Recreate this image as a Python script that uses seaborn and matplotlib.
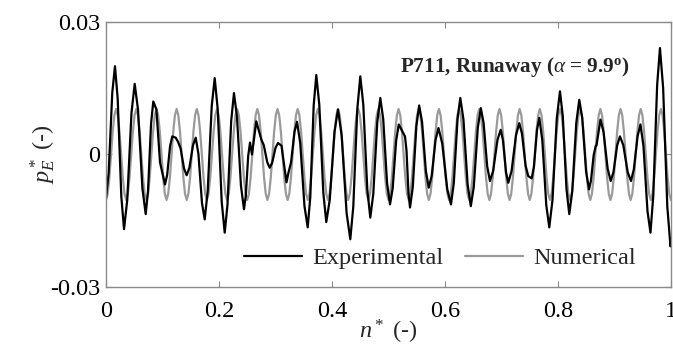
import numpy as np
import pandas as pd
import matplotlib
matplotlib.use("Agg")
import matplotlib.pyplot as plt
import seaborn as sns

# ---------------- data ----------------
exp_n = [0.0000, 0.0048, 0.0111, 0.0159, 0.0207, 0.0271, 0.0319, 0.0376, 0.0451, 0.0508,
         0.0567, 0.0644, 0.0703, 0.0743, 0.0797, 0.0837, 0.0892, 0.0956, 0.1044, 0.1083,
         0.1134, 0.1173, 0.1234, 0.1274, 0.1320, 0.1382, 0.1428, 0.1476, 0.1540, 0.1588,
         0.1636, 0.1699, 0.1747, 0.1800, 0.1871, 0.1924, 0.1977, 0.2048, 0.2101, 0.2150,
         0.2216, 0.2265, 0.2318, 0.2389, 0.2442, 0.2474, 0.2517, 0.2549, 0.2584, 0.2660,
         0.2749, 0.2793, 0.2853, 0.2897, 0.2941, 0.3000, 0.3044, 0.3106, 0.3195, 0.3230,
         0.3275, 0.3336, 0.3381, 0.3438, 0.3513, 0.3570, 0.3616, 0.3676, 0.3722, 0.3775,
         0.3846, 0.3899, 0.3961, 0.4044, 0.4106, 0.4171, 0.4259, 0.4324, 0.4377, 0.4448,
         0.4501, 0.4554, 0.4625, 0.4678, 0.4731, 0.4802, 0.4855, 0.4907, 0.4975, 0.5027,
         0.5074, 0.5136, 0.5182, 0.5292, 0.5319, 0.5354, 0.5381, 0.5430, 0.5494, 0.5543,
         0.5594, 0.5662, 0.5713, 0.5765, 0.5833, 0.5885, 0.5951, 0.6040, 0.6106, 0.6156,
         0.6222, 0.6271, 0.6327, 0.6401, 0.6457, 0.6510, 0.6581, 0.6634, 0.6683, 0.6747,
         0.6796, 0.6853, 0.6929, 0.6986, 0.7026, 0.7080, 0.7120, 0.7179, 0.7257, 0.7315,
         0.7363, 0.7426, 0.7474, 0.7535, 0.7575, 0.7629, 0.7669, 0.7722, 0.7793, 0.7846,
         0.7903, 0.7978, 0.8035, 0.8085, 0.8151, 0.8200, 0.8253, 0.8324, 0.8377, 0.8429,
         0.8497, 0.8549, 0.8584, 0.8632, 0.8667, 0.8681, 0.8752, 0.8806, 0.8879, 0.8933,
         0.8982, 0.9048, 0.9097, 0.9156, 0.9234, 0.9292, 0.9342, 0.9410, 0.9460, 0.9513,
         0.9584, 0.9637, 0.9687, 0.9755, 0.9805, 0.9861, 0.9935, 0.9991, 1.0000]
exp_v = [-0.0100, -0.0040, 0.0140, 0.0200, 0.0126, -0.0095, -0.0169, -0.0103, 0.0094, 0.0160,
         0.0101, -0.0076, -0.0135, -0.0084, 0.0069, 0.0120, 0.0102, -0.0018, -0.0068, -0.0046,
         0.0019, 0.0041, 0.0038, 0.0029, 0.0014, -0.0032, -0.0047, -0.0030, 0.0021, 0.0038,
         0.0001, -0.0110, -0.0147, -0.0083, 0.0109, 0.0173, 0.0103, -0.0107, -0.0177, -0.0114,
         0.0076, 0.0139, 0.0086, -0.0071, -0.0124, -0.0094, -0.0003, 0.0027, 0.0000, 0.0075,
         0.0034, 0.0021, -0.0017, -0.0030, -0.0019, 0.0015, 0.0026, 0.0020, -0.0063, -0.0041,
         -0.0018, 0.0051, 0.0074, 0.0026, -0.0117, -0.0165, -0.0096, 0.0111, 0.0180, 0.0113,
         -0.0086, -0.0153, -0.0102, 0.0051, 0.0102, 0.0043, -0.0133, -0.0192, -0.0118, 0.0103,
         0.0177, 0.0113, -0.0079, -0.0143, -0.0089, 0.0074, 0.0128, 0.0080, -0.0065, -0.0113,
         -0.0077, 0.0032, 0.0068, 0.0041, 0.0009, -0.0088, -0.0120, -0.0074, 0.0065, 0.0111,
         0.0074, -0.0038, -0.0075, -0.0048, 0.0033, 0.0060, 0.0025, -0.0078, -0.0113, -0.0065,
         0.0080, 0.0128, 0.0079, -0.0068, -0.0117, -0.0073, 0.0061, 0.0105, 0.0072, -0.0027,
         -0.0060, -0.0037, 0.0033, 0.0056, 0.0032, -0.0040, -0.0064, -0.0037, 0.0044, 0.0071,
         0.0047, -0.0025, -0.0049, -0.0054, -0.0027, 0.0056, 0.0083, 0.0033, -0.0115, -0.0165,
         -0.0103, 0.0081, 0.0143, 0.0087, -0.0079, -0.0135, -0.0083, 0.0072, 0.0124, 0.0083,
         -0.0038, -0.0079, -0.0059, -0.0001, 0.0019, 0.0020, 0.0079, 0.0051, -0.0032, -0.0060,
         -0.0040, 0.0021, 0.0041, 0.0021, -0.0040, -0.0060, -0.0034, 0.0042, 0.0068, 0.0019,
         -0.0128, -0.0177, -0.0093, 0.0157, 0.0241, 0.0151, -0.0118, -0.0208, -0.0190]

# numerical signal, sampled on an even grid over n* in [0, 1]
num_v = [
    -0.0103, -0.0089, -0.0052, 0.0, 0.0052, 0.0089, 0.0103, 0.0089, 0.0052, 0.0, -0.0052, -0.0089,
    -0.0103, -0.0089, -0.0052, 0.0, 0.0052, 0.0089, 0.0103, 0.0089, 0.0052, 0.0, -0.0052, -0.0089,
    -0.0103, -0.0089, -0.0052, 0.0, 0.0052, 0.0089, 0.0103, 0.0089, 0.0052, 0.0, -0.0052, -0.0089,
    -0.0103, -0.0089, -0.0052, 0.0, 0.0052, 0.0089, 0.0103, 0.0089, 0.0052, 0.0, -0.0052, -0.0089,
    -0.0103, -0.0089, -0.0052, 0.0, 0.0052, 0.0089, 0.0103, 0.0089, 0.0052, 0.0, -0.0052, -0.0089,
    -0.0103, -0.0089, -0.0052, 0.0, 0.0052, 0.0089, 0.0103, 0.0089, 0.0052, 0.0, -0.0052, -0.0089,
    -0.0103, -0.0089, -0.0052, 0.0, 0.0052, 0.0089, 0.0103, 0.0089, 0.0052, 0.0, -0.0052, -0.0089,
    -0.0103, -0.0089, -0.0052, 0.0, 0.0052, 0.0089, 0.0103, 0.0089, 0.0052, 0.0, -0.0052, -0.0089,
    -0.0103, -0.0089, -0.0052, 0.0, 0.0052, 0.0089, 0.0103, 0.0089, 0.0052, 0.0, -0.0052, -0.0089,
    -0.0103, -0.0089, -0.0052, 0.0, 0.0052, 0.0089, 0.0103, 0.0089, 0.0052, 0.0, -0.0052, -0.0089,
    -0.0103, -0.0089, -0.0052, 0.0, 0.0052, 0.0089, 0.0103, 0.0089, 0.0052, 0.0, -0.0052, -0.0089,
    -0.0103, -0.0089, -0.0052, 0.0, 0.0052, 0.0089, 0.0103, 0.0089, 0.0052, 0.0, -0.0052, -0.0089,
    -0.0103, -0.0089, -0.0052, 0.0, 0.0052, 0.0089, 0.0103, 0.0089, 0.0052, 0.0, -0.0052, -0.0089,
    -0.0103, -0.0089, -0.0052, 0.0, 0.0052, 0.0089, 0.0103, 0.0089, 0.0052, 0.0, -0.0052, -0.0089,
    -0.0103, -0.0089, -0.0052, 0.0, 0.0052, 0.0089, 0.0103, 0.0089, 0.0052, 0.0, -0.0052, -0.0089,
    -0.0103, -0.0089, -0.0052, 0.0, 0.0052, 0.0089, 0.0103, 0.0089, 0.0052, 0.0, -0.0052, -0.0089,
    -0.0103, -0.0089, -0.0052, 0.0, 0.0052, 0.0089, 0.0103, 0.0089, 0.0052, 0.0, -0.0052, -0.0089,
    -0.0103, -0.0089, -0.0052, 0.0, 0.0052, 0.0089, 0.0103, 0.0089, 0.0052, 0.0, -0.0052, -0.0089,
    -0.0103, -0.0089, -0.0052, 0.0, 0.0052, 0.0089, 0.0103, 0.0089, 0.0052, 0.0, -0.0052, -0.0089,
    -0.0103, -0.0089, -0.0052, 0.0, 0.0052, 0.0089, 0.0103, 0.0089, 0.0052, 0.0, -0.0052, -0.0089,
    -0.0103, -0.0089, -0.0052, 0.0, 0.0052, 0.0089, 0.0103, 0.0089, 0.0052, 0.0, -0.0052, -0.0089,
    -0.0103, -0.0089, -0.0052, 0.0, 0.0052, 0.0089, 0.0103, 0.0089, 0.0052, 0.0, -0.0052, -0.0089,
    -0.0103, -0.0089, -0.0052, 0.0, 0.0052, 0.0089, 0.0103, 0.0089, 0.0052, 0.0, -0.0052, -0.0089,
    -0.0103, -0.0089, -0.0052, 0.0, 0.0052, 0.0089, 0.0103, 0.0089, 0.0052, 0.0, -0.0052, -0.0089,
    -0.0103, -0.0089, -0.0052, 0.0, 0.0052, 0.0089, 0.0103, 0.0089, 0.0052, 0.0, -0.0052, -0.0089,
    -0.0103, -0.0089, -0.0052, 0.0, 0.0052, 0.0089, 0.0103, 0.0089, 0.0052, 0.0, -0.0052, -0.0089,
    -0.0103, -0.0089, -0.0052, 0.0, 0.0052, 0.0089, 0.0103, 0.0089, 0.0052, 0.0, -0.0052, -0.0089,
    -0.0103, -0.0089, -0.0052, 0.0, 0.0052, 0.0089, 0.0103, 0.0089, 0.0052, 0.0, -0.0052, -0.0089,
    -0.0103]
num_n = np.linspace(0.0, 1.0, len(num_v))

series_names = ["Experimental", "Numerical"]
x_ticks = [0, 0.2, 0.4, 0.6, 0.8, 1.0]
x_tick_labels = ["0", "0.2", "0.4", "0.6", "0.8", "1"]
y_ticks = [-0.03, 0.0, 0.03]
y_tick_labels = ["-0.03", "0", "0.03"]

# ---------------- style ----------------
sns.set_theme(style="white")
plt.rcParams["font.family"] = ["Liberation Serif", "DejaVu Serif"]
plt.rcParams["mathtext.fontset"] = "custom"
plt.rcParams["mathtext.rm"] = "Liberation Serif"
plt.rcParams["mathtext.it"] = "Liberation Serif:italic"
plt.rcParams["mathtext.bf"] = "Liberation Serif:bold"

FS = 17.5
spine_col = "#8a8a8a"

df_exp = pd.DataFrame({"n": exp_n, "p": exp_v, "series": series_names[0]})
df_num = pd.DataFrame({"n": num_n, "p": num_v, "series": series_names[1]})

fig = plt.figure(figsize=(6.73, 3.52), dpi=100)
ax = fig.add_axes([0.1575, 0.1847, 0.8395, 0.7528])

sns.lineplot(data=df_num, x="n", y="p", color="#9a9a9a", lw=1.6, sort=False,
             estimator=None, label=series_names[1], ax=ax)
sns.lineplot(data=df_exp, x="n", y="p", color="#000000", lw=1.6, sort=False,
             estimator=None, label=series_names[0], ax=ax)
for ln in ax.get_lines():
    ln.set_solid_joinstyle("round")

ax.set_xlim(0, 1)
ax.set_ylim(-0.03, 0.03)
ax.set_xticks(x_ticks)
ax.set_xticklabels(x_tick_labels, fontsize=FS)
ax.set_yticks(y_ticks)
ax.set_yticklabels(y_tick_labels, fontsize=FS)
ax.tick_params(axis="both", direction="in", length=4, width=0.8, color=spine_col,
               top=True, right=True, bottom=True, left=True, labelcolor="black")
ax.tick_params(axis="x", pad=10)
ax.tick_params(axis="y", pad=4)
for s in ax.spines.values():
    s.set_visible(True)
    s.set_color(spine_col)
    s.set_linewidth(1.0)

ax.set_xlabel(r"$n^*$ (-)", fontsize=FS)
ax.set_ylabel(r"$p_E^*$ (-)", fontsize=FS)
ax.xaxis.set_label_coords(0.5, -0.115)
ax.yaxis.set_label_coords(-0.085, 0.5)

handles, labels = ax.get_legend_handles_labels()
order = [labels.index(series_names[0]), labels.index(series_names[1])]
ax.legend([handles[i] for i in order], [labels[i] for i in order], ncol=2,
          frameon=False, loc="center", bbox_to_anchor=(0.591, 0.109),
          handlelength=2.4, columnspacing=0.9, handletextpad=0.4, fontsize=FS)

ax.text(0.52, 0.811, r"P711, Runaway ($\alpha$ = 9.9$^{\mathbf{o}}$)",
        transform=ax.transAxes, fontsize=15.2, fontweight="bold",
        ha="left", va="baseline")

fig.savefig("out.png", dpi=100)
